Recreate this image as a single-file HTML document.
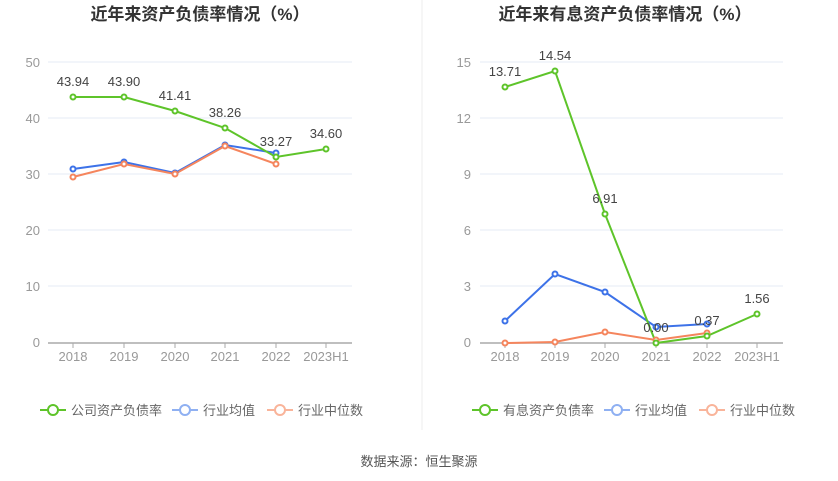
<!DOCTYPE html>
<html><head><meta charset="utf-8"><style>
body{margin:0;background:#fff;}
svg{display:block;font-family:"Liberation Sans","Noto Sans CJK SC",sans-serif;}
</style></head><body>
<svg width="838" height="481" viewBox="0 0 838 481">
<line x1="422" y1="0" x2="422" y2="430" stroke="#eee"/>
<text x="200" y="20" text-anchor="middle" font-size="17" font-weight="bold" fill="#333">近年来资产负债率情况（%）</text>
<text x="625" y="20" text-anchor="middle" font-size="17" font-weight="bold" fill="#333">近年来有息资产负债率情况（%）</text>
<g stroke="#e6ebf5" stroke-width="1">
<line x1="48" y1="62" x2="352" y2="62"/><line x1="48" y1="118" x2="352" y2="118"/><line x1="48" y1="174" x2="352" y2="174"/><line x1="48" y1="230" x2="352" y2="230"/><line x1="48" y1="286" x2="352" y2="286"/>
<line x1="480" y1="62" x2="783" y2="62"/><line x1="480" y1="118" x2="783" y2="118"/><line x1="480" y1="174" x2="783" y2="174"/><line x1="480" y1="230" x2="783" y2="230"/><line x1="480" y1="286" x2="783" y2="286"/>
</g>
<g stroke="#aaa" stroke-width="1.5"><line x1="48" y1="343" x2="352" y2="343"/><line x1="480" y1="343" x2="783" y2="343"/></g>
<g stroke="#aaa"><line x1="73" y1="343" x2="73" y2="348"/><line x1="124" y1="343" x2="124" y2="348"/><line x1="175" y1="343" x2="175" y2="348"/><line x1="225" y1="343" x2="225" y2="348"/><line x1="276" y1="343" x2="276" y2="348"/><line x1="326" y1="343" x2="326" y2="348"/>
<line x1="505" y1="343" x2="505" y2="348"/><line x1="555" y1="343" x2="555" y2="348"/><line x1="605" y1="343" x2="605" y2="348"/><line x1="656" y1="343" x2="656" y2="348"/><line x1="707" y1="343" x2="707" y2="348"/><line x1="757" y1="343" x2="757" y2="348"/></g>
<g font-size="13" fill="#999" text-anchor="end">
<text x="40" y="67">50</text><text x="40" y="123">40</text><text x="40" y="179">30</text><text x="40" y="235">20</text><text x="40" y="291">10</text><text x="40" y="347">0</text>
<text x="471" y="67">15</text><text x="471" y="123">12</text><text x="471" y="179">9</text><text x="471" y="235">6</text><text x="471" y="291">3</text><text x="471" y="347">0</text>
</g>
<g font-size="13" fill="#999" text-anchor="middle">
<text x="73" y="361">2018</text><text x="124" y="361">2019</text><text x="175" y="361">2020</text><text x="225" y="361">2021</text><text x="276" y="361">2022</text><text x="326" y="361">2023H1</text>
<text x="505" y="361">2018</text><text x="555" y="361">2019</text><text x="605" y="361">2020</text><text x="656" y="361">2021</text><text x="707" y="361">2022</text><text x="757" y="361">2023H1</text>
</g>
<g fill="#fff" stroke-width="2">
<polyline fill="none" stroke="#3d72e8" points="73,169 124,162 175,173 225,145 276,153"/>
<polyline fill="none" stroke="#f5855d" points="73,177 124,164 175,174 225,146 276,164"/>
<polyline fill="none" stroke="#5ec42a" points="73,97 124,97 175,111 225,128 276,157 326,149"/>
<g stroke="#3d72e8"><circle cx="73" cy="169" r="2.5"/><circle cx="124" cy="162" r="2.5"/><circle cx="175" cy="173" r="2.5"/><circle cx="225" cy="145" r="2.5"/><circle cx="276" cy="153" r="2.5"/></g>
<g stroke="#f5855d"><circle cx="73" cy="177" r="2.5"/><circle cx="124" cy="164" r="2.5"/><circle cx="175" cy="174" r="2.5"/><circle cx="225" cy="146" r="2.5"/><circle cx="276" cy="164" r="2.5"/></g>
<g stroke="#5ec42a"><circle cx="73" cy="97" r="2.5"/><circle cx="124" cy="97" r="2.5"/><circle cx="175" cy="111" r="2.5"/><circle cx="225" cy="128" r="2.5"/><circle cx="276" cy="157" r="2.5"/><circle cx="326" cy="149" r="2.5"/></g>
<polyline fill="none" stroke="#3d72e8" points="505,321 555,274 605,292 656,327 707,324"/>
<polyline fill="none" stroke="#f5855d" points="505,343 555,342 605,332 656,340 707,333"/>
<polyline fill="none" stroke="#5ec42a" points="505,87 555,71 605,214 656,343 707,336 757,314"/>
<g stroke="#3d72e8"><circle cx="505" cy="321" r="2.5"/><circle cx="555" cy="274" r="2.5"/><circle cx="605" cy="292" r="2.5"/><circle cx="656" cy="327" r="2.5"/><circle cx="707" cy="324" r="2.5"/></g>
<g stroke="#f5855d"><circle cx="505" cy="343" r="2.5"/><circle cx="555" cy="342" r="2.5"/><circle cx="605" cy="332" r="2.5"/><circle cx="656" cy="340" r="2.5"/><circle cx="707" cy="333" r="2.5"/></g>
<g stroke="#5ec42a"><circle cx="505" cy="87" r="2.5"/><circle cx="555" cy="71" r="2.5"/><circle cx="605" cy="214" r="2.5"/><circle cx="656" cy="343" r="2.5"/><circle cx="707" cy="336" r="2.5"/><circle cx="757" cy="314" r="2.5"/></g>
</g>
<g font-size="13" fill="#444" text-anchor="middle">
<text x="73" y="86">43.94</text><text x="124" y="86">43.90</text><text x="175" y="100">41.41</text><text x="225" y="117">38.26</text><text x="276" y="146">33.27</text><text x="326" y="138">34.60</text>
<text x="505" y="76">13.71</text><text x="555" y="60">14.54</text><text x="605" y="203">6.91</text><text x="656" y="332">0.00</text><text x="707" y="325">0.37</text><text x="757" y="303">1.56</text>
</g>
<g font-size="13" fill="#666" stroke-width="2">
<line x1="40" y1="410" x2="66" y2="410" stroke="#5ec42a"/><circle cx="53" cy="410" r="5" fill="#fff" stroke="#5ec42a"/><text x="71" y="415">公司资产负债率</text>
<line x1="172" y1="410" x2="198" y2="410" stroke="#8fb0f2"/><circle cx="185" cy="410" r="5" fill="#fff" stroke="#8fb0f2"/><text x="203" y="415">行业均值</text>
<line x1="267" y1="410" x2="293" y2="410" stroke="#f9b49a"/><circle cx="280" cy="410" r="5" fill="#fff" stroke="#f9b49a"/><text x="298" y="415">行业中位数</text>
<line x1="472" y1="410" x2="498" y2="410" stroke="#5ec42a"/><circle cx="485" cy="410" r="5" fill="#fff" stroke="#5ec42a"/><text x="503" y="415">有息资产负债率</text>
<line x1="604" y1="410" x2="630" y2="410" stroke="#8fb0f2"/><circle cx="617" cy="410" r="5" fill="#fff" stroke="#8fb0f2"/><text x="635" y="415">行业均值</text>
<line x1="699" y1="410" x2="725" y2="410" stroke="#f9b49a"/><circle cx="712" cy="410" r="5" fill="#fff" stroke="#f9b49a"/><text x="730" y="415">行业中位数</text>
</g>
<text x="419" y="466" text-anchor="middle" font-size="13" fill="#555">数据来源：恒生聚源</text>
</svg>
</body></html>
